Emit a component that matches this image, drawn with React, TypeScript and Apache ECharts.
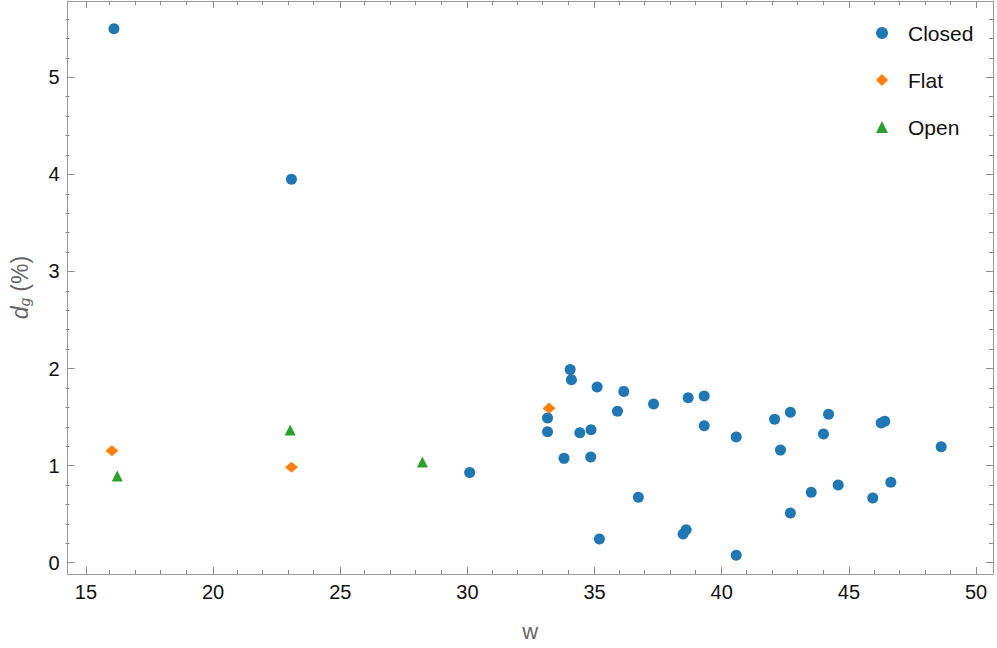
import React, { useEffect, useRef } from "react";
import * as echarts from "echarts";

const closedData: [number, number][] = [
  [16.1, 5.5], [23.08, 3.95], [30.09, 0.93], [33.15, 1.49], [33.15, 1.35],
  [33.8, 1.075], [34.04, 1.99], [34.09, 1.885], [34.42, 1.34], [34.86, 1.37],
  [34.85, 1.09], [35.1, 1.81], [35.19, 0.244], [35.9, 1.56], [36.15, 1.765],
  [36.72, 0.674], [37.32, 1.635], [38.48, 0.295], [38.6, 0.34], [38.68, 1.7],
  [39.31, 1.717], [39.31, 1.41], [40.57, 1.295], [40.57, 0.076], [42.08, 1.477],
  [42.31, 1.16], [42.7, 1.55], [42.7, 0.512], [43.52, 0.725], [44.0, 1.326],
  [44.2, 1.53], [44.58, 0.8], [45.94, 0.666], [46.27, 1.44], [46.41, 1.457],
  [46.65, 0.83], [48.63, 1.195],
];
const flatData: [number, number][] = [
  [16.02, 1.154], [23.08, 0.983], [33.21, 1.59],
];
const openData: [number, number][] = [
  [16.23, 0.893], [23.03, 1.367], [28.23, 1.037],
];

const xMajor = [15, 20, 25, 30, 35, 40, 45, 50];
const yMajor = [0, 1, 2, 3, 4, 5];

const X_MIN = 14.274;
const X_MAX = 50.667;
const Y_MIN = -0.116;
const Y_MAX = 5.786;

const xMinor: number[] = [];
for (let v = 15; v <= 50; v += 1) if (v % 5 !== 0) xMinor.push(v);
const yMinor: number[] = [];
for (let i = 1; i <= 28; i++) if (i % 5 !== 0) yMinor.push(+(i * 0.2).toFixed(1));

const FONT = "'Liberation Sans', Arial, sans-serif";
const AXIS_COLOR = "#9a9a9a";
const TICK_COLOR = "#8a8a8a";

export default function App() {
  const ref = useRef<HTMLDivElement>(null);
  useEffect(() => {
    if (!ref.current) return;
    const chart = echarts.init(ref.current, undefined, { renderer: "svg" });

    const mkX = (grid: number, pos: "bottom" | "top", major: boolean, labels: boolean, line: boolean): any => ({
      type: "value",
      gridIndex: grid,
      position: pos,
      min: X_MIN,
      max: X_MAX,
      axisLine: { show: line, onZero: false, lineStyle: { color: AXIS_COLOR, width: 1 } },
      axisTick: {
        show: true,
        inside: true,
        length: major ? 7 : 4,
        customValues: major ? xMajor : xMinor,
        lineStyle: { color: TICK_COLOR, width: 1 },
      },
      axisLabel: labels
        ? { show: true, customValues: xMajor, fontSize: 20, color: "#111", fontFamily: FONT, margin: 8 }
        : { show: false },
      splitLine: { show: false },
    });
    const mkY = (grid: number, pos: "left" | "right", major: boolean, labels: boolean, line: boolean): any => ({
      type: "value",
      gridIndex: grid,
      position: pos,
      min: Y_MIN,
      max: Y_MAX,
      axisLine: { show: line, onZero: false, lineStyle: { color: AXIS_COLOR, width: 1 } },
      axisTick: {
        show: true,
        inside: true,
        length: major ? 7 : 4,
        customValues: major ? yMajor : yMinor,
        lineStyle: { color: TICK_COLOR, width: 1 },
      },
      axisLabel: labels
        ? { show: true, customValues: yMajor, fontSize: 20, color: "#111", fontFamily: FONT, margin: 8 }
        : { show: false },
      splitLine: { show: false },
    });

    const x0 = mkX(0, "bottom", true, true, true);
    x0.name = "w";
    x0.nameLocation = "middle";
    x0.nameGap = 46;
    x0.nameTextStyle = { fontSize: 22, color: "#666", fontFamily: FONT };

    const y0 = mkY(0, "left", true, true, true);
    y0.name = "{d|d}{g|g}{p| (%)}";
    y0.nameLocation = "middle";
    y0.nameRotate = 90;
    y0.nameGap = 36;
    y0.nameTextStyle = {
      color: "#666",
      fontFamily: FONT,
      fontSize: 22,
      rich: {
        d: { fontSize: 23, fontStyle: "italic", color: "#666", fontFamily: FONT },
        g: { fontSize: 15, fontStyle: "italic", color: "#666", fontFamily: FONT, padding: [9, 0, 0, 0] },
        p: { fontSize: 23, color: "#666", fontFamily: FONT },
      },
    };

    const gridBox = { left: 65.5, right: 4, top: 1, bottom: 74, containLabel: false };

    chart.setOption({
      animation: false,
      backgroundColor: "#ffffff",
      grid: [gridBox, { ...gridBox }],
      xAxis: [
        x0,
        mkX(0, "top", true, false, true),
        mkX(1, "bottom", false, false, false),
        mkX(1, "top", false, false, false),
      ],
      yAxis: [
        y0,
        mkY(0, "right", true, false, true),
        mkY(1, "left", false, false, false),
        mkY(1, "right", false, false, false),
      ],
      legend: {
        orient: "vertical",
        left: 871,
        top: 17.5,
        itemWidth: 12,
        itemHeight: 12,
        itemGap: 26,
        textStyle: { fontSize: 21, color: "#111", fontFamily: FONT, padding: [0, 0, 0, 15] },
        data: ["Closed", "Flat", "Open"],
      },
      series: [
        {
          name: "Closed",
          type: "scatter",
          xAxisIndex: 0,
          yAxisIndex: 0,
          symbol: "circle",
          symbolSize: 11,
          itemStyle: { color: "#1f77b4", opacity: 1 },
          data: closedData,
        },
        {
          name: "Flat",
          type: "scatter",
          xAxisIndex: 0,
          yAxisIndex: 0,
          symbol: "diamond",
          symbolSize: [13, 11],
          itemStyle: { color: "#ff7f0e", opacity: 1 },
          data: flatData,
        },
        {
          name: "Open",
          type: "scatter",
          xAxisIndex: 0,
          yAxisIndex: 0,
          symbol: "triangle",
          symbolSize: [11, 11],
          itemStyle: { color: "#2ca02c", opacity: 1 },
          data: openData,
        },
      ],
    });
    return () => chart.dispose();
  }, []);
  return (
    <div
      ref={ref}
      style={{ position: "absolute", left: 0, top: 0, width: 997, height: 648 }}
    />
  );
}
